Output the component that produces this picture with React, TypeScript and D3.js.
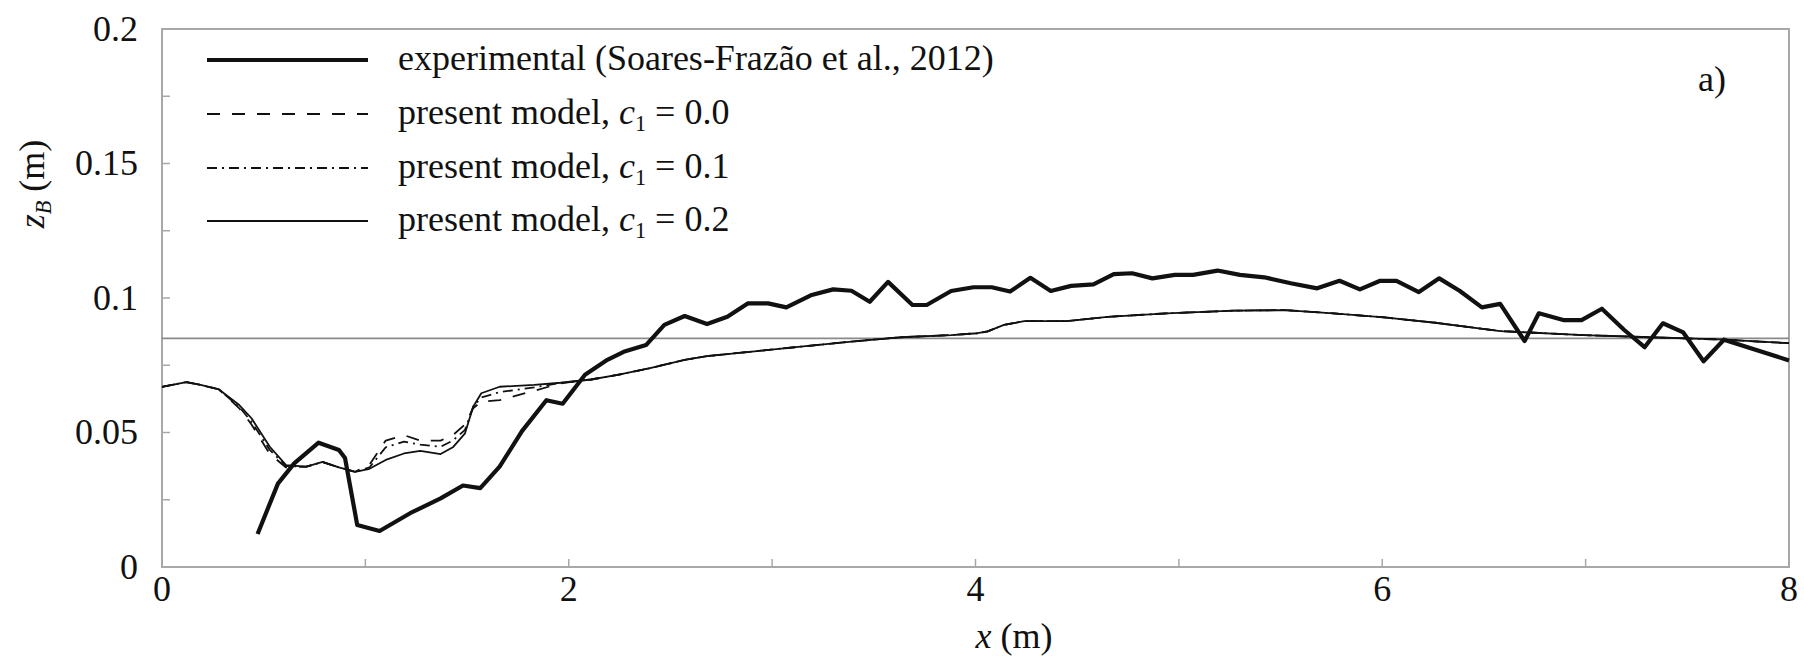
import React from "react";
import * as d3 from "d3";

// Bed elevation profiles along the channel
const expX = [0.47, 0.57, 0.65, 0.77, 0.87, 0.9, 0.96, 1.07, 1.22, 1.37, 1.48, 1.565, 1.66, 1.77, 1.89, 1.97, 2.08, 2.19, 2.27, 2.38, 2.47, 2.57, 2.68, 2.78, 2.88, 2.98, 3.07, 3.19, 3.3, 3.39, 3.48, 3.57, 3.69, 3.76, 3.88, 3.99, 4.08, 4.17, 4.27, 4.37, 4.47, 4.58, 4.68, 4.77, 4.87, 4.98, 5.07, 5.19, 5.3, 5.42, 5.55, 5.68, 5.79, 5.89, 5.99, 6.07, 6.18, 6.28, 6.38, 6.49, 6.58, 6.7, 6.77, 6.89, 6.98, 7.08, 7.19, 7.29, 7.38, 7.48, 7.58, 7.68, 8.0];
const expZ = [0.0123, 0.031, 0.0385, 0.0462, 0.0435, 0.0405, 0.0156, 0.0134, 0.02, 0.0255, 0.0303, 0.0293, 0.0373, 0.0505, 0.062, 0.0607, 0.0715, 0.077, 0.08, 0.0825, 0.09, 0.0933, 0.0903, 0.093, 0.098, 0.098, 0.0965, 0.101, 0.1032, 0.1027, 0.0986, 0.106, 0.0974, 0.0974, 0.1026, 0.104, 0.104, 0.1024, 0.1075, 0.1026, 0.1045, 0.1051, 0.1089, 0.1092, 0.1073, 0.1086, 0.1086, 0.1102, 0.1086, 0.1077, 0.1055, 0.1036, 0.1064, 0.1032, 0.1064, 0.1064, 0.1022, 0.1073, 0.1027, 0.0965, 0.0978, 0.084, 0.0943, 0.0918, 0.0918, 0.096, 0.0881, 0.0817, 0.0906, 0.0872, 0.0765, 0.0845, 0.0768];

const modelX = [0, 0.12, 0.19, 0.28, 0.38, 0.44, 0.53, 0.61, 0.71, 0.79, 0.87, 0.95, 1.02, 1.1, 1.19, 1.27, 1.37, 1.43, 1.49, 1.53, 1.57, 1.66, 1.83, 1.96, 2.11, 2.24, 2.4, 2.57, 2.68, 2.89, 3.14, 3.39, 3.63, 3.88, 4.01, 4.06, 4.14, 4.24, 4.45, 4.65, 4.94, 5.27, 5.52, 5.76, 6.01, 6.26, 6.58, 6.99, 7.32, 7.65, 8.0];
const modelC00 = [0.067, 0.0687, 0.0677, 0.066, 0.059, 0.053, 0.042, 0.037, 0.0373, 0.039, 0.037, 0.0354, 0.038, 0.047, 0.049, 0.047, 0.047, 0.049, 0.053, 0.059, 0.0615, 0.062, 0.0655, 0.0683, 0.0697, 0.0714, 0.0739, 0.077, 0.0784, 0.08, 0.0819, 0.0838, 0.0854, 0.0862, 0.0869, 0.0876, 0.09, 0.0914, 0.0914, 0.093, 0.0943, 0.0953, 0.0955, 0.0943, 0.0928, 0.0908, 0.0877, 0.0862, 0.0854, 0.0846, 0.0832];
const modelC01 = [0.067, 0.0687, 0.0677, 0.066, 0.0595, 0.054, 0.0435, 0.0375, 0.0373, 0.039, 0.037, 0.0354, 0.037, 0.0445, 0.0466, 0.0455, 0.0447, 0.047, 0.051, 0.0596, 0.063, 0.065, 0.0668, 0.0684, 0.0697, 0.0714, 0.0739, 0.077, 0.0784, 0.08, 0.0819, 0.0838, 0.0854, 0.0862, 0.0869, 0.0876, 0.09, 0.0914, 0.0914, 0.093, 0.0943, 0.0953, 0.0955, 0.0943, 0.0928, 0.0908, 0.0877, 0.0862, 0.0854, 0.0846, 0.0832];
const modelC02 = [0.067, 0.0687, 0.0677, 0.066, 0.0602, 0.0553, 0.0447, 0.0379, 0.0373, 0.0391, 0.037, 0.0354, 0.0365, 0.0398, 0.0422, 0.0432, 0.042, 0.0445, 0.0497, 0.0596, 0.0646, 0.067, 0.0677, 0.0685, 0.0697, 0.0714, 0.0739, 0.077, 0.0784, 0.08, 0.0819, 0.0838, 0.0854, 0.0862, 0.0869, 0.0876, 0.09, 0.0914, 0.0914, 0.093, 0.0943, 0.0953, 0.0955, 0.0943, 0.0928, 0.0908, 0.0877, 0.0862, 0.0854, 0.0846, 0.0832];

// Reference level drawn across the whole channel
const refLevel = 0.085;

const xTicks = [0, 1, 2, 3, 4, 5, 6, 7, 8];
const xTickLabels = [0, 2, 4, 6, 8];
const yTicks = [0, 0.025, 0.05, 0.075, 0.1, 0.125, 0.15, 0.175, 0.2];
const yTickLabels = [0, 0.05, 0.1, 0.15, 0.2];

const legendLabels = ["experimental (Soares-Frazão et al., 2012)", "present model, ", "present model, ", "present model, "];
const legendCoefs = ["", "0.0", "0.1", "0.2"];

const W = 1804;
const H = 665;
const M = { left: 162, right: 1789, top: 29, bottom: 567 };
const FONT = "Liberation Serif, DejaVu Serif, serif";
const FS = 36;
const INK = "#111";
const AXIS = "#a8a8a8";

export default function App() {
  const x = d3.scaleLinear().domain([0, 8]).range([M.left, M.right]);
  const y = d3.scaleLinear().domain([0, 0.2]).range([M.bottom, M.top]);

  const line = (xs: number[], ys: number[]) =>
    d3
      .line<number>()
      .x((_, i) => x(xs[i]))
      .y((d) => y(d))(ys) as string;

  const series = [
    { d: line(expX, expZ), w: 4.2, dash: undefined as string | undefined },
    { d: line(modelX, modelC00), w: 1.8, dash: "13,12" },
    { d: line(modelX, modelC01), w: 1.8, dash: "10,5,2,5" },
    { d: line(modelX, modelC02), w: 1.8, dash: undefined },
  ];

  const legendRows = [60, 114, 168, 221];
  const fmtY = (v: number) => (v === 0 ? "0" : String(v));
  const txt = { fontFamily: FONT };

  return (
    <svg
      width={W}
      height={H}
      viewBox={`0 0 ${W} ${H}`}
      style={{ position: "absolute", left: 0, top: 0, background: "#fff", fontFamily: FONT }}
    >
      <rect x={0} y={0} width={W} height={H} fill="#fff" />

      {/* frame */}
      <rect
        x={M.left}
        y={M.top}
        width={M.right - M.left}
        height={M.bottom - M.top}
        fill="none"
        stroke={AXIS}
        strokeWidth={2}
      />

      {/* inward ticks */}
      {xTicks.map((t) => (
        <line key={"xt" + t} x1={x(t)} x2={x(t)} y1={M.bottom} y2={M.bottom - 8} stroke={AXIS} strokeWidth={1.5} />
      ))}
      {yTicks.map((t) => (
        <line key={"yt" + t} x1={M.left} x2={M.left + 8} y1={y(t)} y2={y(t)} stroke={AXIS} strokeWidth={1.5} />
      ))}

      {/* tick labels */}
      {xTickLabels.map((t) => (
        <text key={"xl" + t} x={x(t)} y={601} textAnchor="middle" fontSize={FS} fill={INK} style={txt}>
          {t}
        </text>
      ))}
      {yTickLabels.map((t) => (
        <text key={"yl" + t} x={138} y={y(t)} dy="0.33em" textAnchor="end" fontSize={FS} fill={INK} style={txt}>
          {fmtY(t)}
        </text>
      ))}

      {/* reference level */}
      <line x1={x(0)} x2={x(8)} y1={y(refLevel)} y2={y(refLevel)} stroke="#8a8a8a" strokeWidth={1.6} />

      {/* profiles */}
      {series.map((s, i) => (
        <path
          key={"s" + i}
          d={s.d}
          fill="none"
          stroke={INK}
          strokeWidth={s.w}
          strokeDasharray={s.dash}
          strokeLinejoin="round"
        />
      ))}

      {/* legend */}
      {legendRows.map((ry, i) => (
        <g key={"lg" + i}>
          <line
            x1={207}
            x2={368}
            y1={ry}
            y2={ry}
            stroke={INK}
            strokeWidth={series[i].w}
            strokeDasharray={series[i].dash}
          />
          <text x={398} y={ry + 10} fontSize={FS} fill={INK} style={txt}>
            {legendLabels[i]}
            {legendCoefs[i] !== "" && (
              <>
                <tspan fontStyle="italic">c</tspan>
                <tspan fontSize={FS * 0.62} dy="0.3em">1</tspan>
                <tspan dy={`${-0.3 * 0.62}em`}>{" = " + legendCoefs[i]}</tspan>
              </>
            )}
          </text>
        </g>
      ))}

      {/* panel tag */}
      <text x={1726} y={91} textAnchor="end" fontSize={FS} fill={INK} style={txt}>
        a)
      </text>

      {/* axis titles */}
      <text x={1014} y={648} textAnchor="middle" fontSize={FS} fill={INK} style={txt}>
        <tspan fontStyle="italic">x</tspan>
        <tspan>{" (m)"}</tspan>
      </text>
      <text transform="translate(44,184) rotate(-90)" textAnchor="middle" fontSize={FS} fill={INK} style={txt}>
        <tspan fontStyle="italic">z</tspan>
        <tspan fontStyle="italic" fontSize={FS * 0.62} dy="0.3em">B</tspan>
        <tspan dy={`${-0.3 * 0.62}em`}>{" (m)"}</tspan>
      </text>
    </svg>
  );
}
